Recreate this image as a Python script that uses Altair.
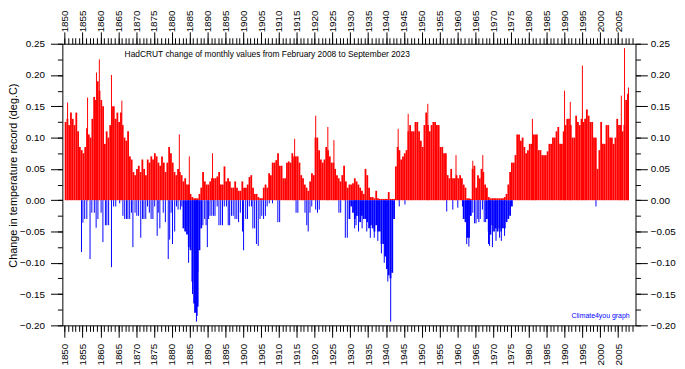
import altair as alt
import pandas as pd

# ---------------- data ----------------
start_year = 1850
step = 0.5  # half-year bins

# typical positive level per half-year (1850.0 ... 2007.5)
pos = [
    # 1850-1859
    0.125, 0.13, 0.12, 0.14, 0.13, 0.12, 0.14, 0.11, 0.085, 0.08,
    0.075, 0.085, 0.115, 0.105, 0.10, 0.13, 0.165, 0.16, 0.19, 0.175,
    # 1860-1869
    0.16, 0.15, 0.09, 0.11, 0.10, 0.12, 0.15, 0.15, 0.13, 0.14,
    0.125, 0.14, 0.12, 0.10, 0.095, 0.11, 0.07, 0.065, 0.045, 0.04,
    # 1870-1879
    0.05, 0.055, 0.045, 0.065, 0.05, 0.04, 0.065, 0.06, 0.07, 0.065,
    0.075, 0.07, 0.06, 0.055, 0.07, 0.06, 0.045, 0.06, 0.085, 0.075,
    # 1880-1889
    0.06, 0.045, 0.04, 0.05, 0.045, 0.04, 0.03, 0.035, 0.025, 0.025,
    0.01, 0.005, 0.003, 0.003, 0.003, 0.01, 0.02, 0.045, 0.03, 0.025,
    # 1890-1899
    0.025, 0.03, 0.035, 0.035, 0.035, 0.038, 0.045, 0.025, 0.025, 0.054,
    0.03, 0.035, 0.03, 0.02, 0.02, 0.03, 0.02, 0.015, 0.015, 0.03,
    # 1900-1909
    0.02, 0.02, 0.025, 0.037, 0.04, 0.02, 0.01, 0.01, 0.005, 0.003,
    0.003, 0.02, 0.025, 0.02, 0.043, 0.04, 0.06, 0.06, 0.064, 0.075,
    # 1910-1919
    0.055, 0.055, 0.035, 0.035, 0.06, 0.062, 0.06, 0.075, 0.07, 0.07,
    0.07, 0.06, 0.04, 0.035, 0.025, 0.02, 0.015, 0.03, 0.043, 0.04,
    # 1920-1929
    0.10, 0.10, 0.08, 0.065, 0.06, 0.065, 0.085, 0.08, 0.07, 0.06,
    0.06, 0.05, 0.04, 0.035, 0.03, 0.04, 0.055, 0.03, 0.02, 0.025,
    # 1930-1939
    0.025, 0.027, 0.035, 0.03, 0.025, 0.02, 0.015, 0.01, 0.05, 0.04,
    0.02, 0.005, 0.005, 0.003, 0.015, 0.003, 0.002, 0.002, 0.002, 0.002,
    # 1940-1949
    0.002, 0.013, 0.002, 0.002, 0.002, 0.054, 0.085, 0.08, 0.065, 0.07,
    0.075, 0.08, 0.11, 0.12, 0.11, 0.11, 0.125, 0.125, 0.11, 0.095,
    # 1950-1959
    0.085, 0.12, 0.14, 0.12, 0.11, 0.12, 0.125, 0.125, 0.12, 0.12,
    0.085, 0.085, 0.075, 0.075, 0.04, 0.035, 0.05, 0.035, 0.035, 0.04,
    # 1960-1969
    0.035, 0.04, 0.035, 0.025, 0.02, 0.003, 0.003, 0.002, 0.05, 0.055,
    0.02, 0.04, 0.035, 0.05, 0.045, 0.025, 0.02, 0.005, 0.003, 0.003,
    # 1970-1979
    0.003, 0.003, 0.003, 0.003, 0.003, 0.003, 0.005, 0.01, 0.025, 0.045,
    0.06, 0.06, 0.072, 0.105, 0.105, 0.095, 0.10, 0.085, 0.075, 0.08,
    # 1980-1989
    0.09, 0.09, 0.105, 0.105, 0.105, 0.08, 0.08, 0.072, 0.072, 0.072,
    0.078, 0.09, 0.09, 0.10, 0.10, 0.11, 0.117, 0.09, 0.09, 0.11,
    # 1990-1999
    0.12, 0.13, 0.13, 0.12, 0.10, 0.10, 0.135, 0.125, 0.12, 0.13,
    0.125, 0.13, 0.145, 0.135, 0.125, 0.125, 0.10, 0.10, 0.05, 0.08,
    # 2000-2007
    0.125, 0.09, 0.09, 0.12, 0.12, 0.10, 0.10, 0.09, 0.10, 0.13,
    0.12, 0.12, 0.11, 0.12, 0.16, 0.17,
]

# single-month positive spikes (decimal year, value)
pos_spike_year = [1850.8, 1856.4, 1858.9, 1859.7, 1863.1, 1866.0, 1882.1, 1884.9,
                  1891.4, 1914.4, 1920.3, 1923.7, 1925.4, 1943.4, 1946.2, 1951.7,
                  1959.6, 1964.3, 1967.1, 1981.0, 1990.0, 1991.6, 1995.0, 2005.9,
                  2006.8, 2007.9]
pos_spike_val = [0.156, 0.164, 0.204, 0.225, 0.20, 0.159, 0.105, 0.07,
                 0.075, 0.098, 0.135, 0.117, 0.096, 0.114, 0.138, 0.154,
                 0.072, 0.063, 0.072, 0.13, 0.175, 0.157, 0.215, 0.167,
                 0.243, 0.18]

# solid negative blocks per half-year (1850.0 ... 2007.5), zero elsewhere
neg_block = [0.0] * 66 + [
    # 1883-1888
    -0.045, -0.05, -0.055, -0.075, -0.08, -0.13, -0.165, -0.18, -0.17, -0.08,
    -0.045, 0.0,
] + [0.0] * 81 + [
    # 1929.5-1942
    -0.03, -0.01, -0.02, -0.03, -0.025, -0.025, -0.035, -0.025, -0.03, -0.03,
    -0.035, -0.045, -0.04, -0.045, -0.05, -0.04, -0.05, -0.05, -0.07, -0.07,
    -0.09, -0.11, -0.12, -0.125, -0.116, -0.03,
] + [0.0] * 38 + [
    # 1961.5-1963.5
    -0.03, -0.035, -0.06, -0.06, -0.025,
] + [0.0] * 8 + [
    # 1968-1975
    -0.03, -0.05, -0.055, -0.04, -0.05, -0.045, -0.05, -0.045, -0.05, -0.045,
    -0.045, -0.035, -0.03, -0.025, -0.01,
] + [0.0] * 65

# single-month negative spikes (decimal year, value)
neg_spike_year = [
    1854.7, 1855.1, 1855.6, 1856.2, 1857.1, 1857.6, 1858.3, 1858.8, 1859.3, 1860.2,
    1860.7, 1861.4, 1861.8, 1862.3, 1863.1, 1863.7, 1864.3, 1865.4, 1866.3, 1866.8,
    1867.3, 1867.7, 1868.2, 1868.7, 1869.1, 1869.7, 1870.2, 1870.7, 1871.3, 1871.8,
    1872.2, 1872.7, 1873.2, 1873.7, 1874.2, 1874.7, 1875.2, 1875.9, 1876.2, 1876.65,
    1877.6, 1878.2, 1879.0, 1879.4, 1879.8, 1880.2, 1880.8, 1881.3, 1881.75, 1882.4,
    1882.8, 1884.7, 1885.8, 1886.4, 1886.9, 1887.1, 1887.3,
    1888.7, 1889.2, 1889.6, 1889.95, 1890.3, 1890.7, 1891.2, 1891.7, 1892.1, 1892.7,
    1893.2, 1893.7, 1894.2, 1894.7, 1895.3, 1895.8, 1896.2, 1896.7, 1897.2, 1897.7,
    1898.2, 1898.7, 1899.2, 1899.8, 1900.1, 1900.7, 1901.2, 1901.7, 1902.3, 1902.7,
    1903.2, 1903.7, 1904.2, 1904.7, 1905.2, 1905.7, 1906.2, 1906.7, 1907.3, 1908.2,
    1909.7, 1910.2, 1914.8, 1915.3, 1917.3, 1917.8, 1918.2, 1918.7, 1919.2, 1920.3,
    1920.8, 1921.3, 1926.8, 1927.3, 1928.6, 1929.15, 1931.2, 1931.6, 1932.3, 1933.3,
    1934.6, 1935.6, 1936.7, 1937.7, 1938.7, 1939.5, 1940.5, 1941.3,
    1943.7, 1945.3, 1957.0, 1958.7, 1960.1, 1961.4, 1962.6, 1963.2,
    1964.3, 1964.8, 1965.2, 1965.7, 1966.0, 1966.4, 1967.0, 1967.5, 1967.9,
    1968.7, 1969.0, 1969.8, 1970.8, 1971.8, 1972.3, 1973.2, 1998.8,
]
neg_spike_val = [
    -0.083, -0.036, -0.03, -0.03, -0.094, -0.02, -0.02, -0.044, -0.03, -0.02,
    -0.067, -0.04, -0.04, -0.04, -0.107, -0.01, -0.01, -0.005, -0.025, -0.03,
    -0.03, -0.03, -0.03, -0.02, -0.075, -0.02, -0.025, -0.025, -0.06, -0.03,
    -0.03, -0.03, -0.01, -0.02, -0.03, -0.03, -0.01, -0.057, -0.02, -0.045,
    -0.02, -0.035, -0.094, -0.063, -0.02, -0.07, -0.05, -0.01, -0.015, -0.015,
    -0.01, -0.10, -0.15, -0.18, -0.194, -0.185, -0.115,
    -0.04, -0.03, -0.04, -0.075, -0.03, -0.025, -0.025, -0.025, -0.025, -0.01,
    -0.04, -0.04, -0.04, -0.01, -0.01, -0.04, -0.04, -0.025, -0.025, -0.03,
    -0.03, -0.035, -0.02, -0.05, -0.08, -0.03, -0.03, -0.01, -0.01, -0.045,
    -0.045, -0.07, -0.073, -0.03, -0.025, -0.03, -0.025, -0.01, -0.005, -0.005,
    -0.035, -0.035, -0.02, -0.02, -0.02, -0.04, -0.05, -0.02, -0.01, -0.015,
    -0.02, -0.015, -0.02, -0.02, -0.06, -0.06, -0.045, -0.04, -0.05, -0.045,
    -0.05, -0.06, -0.06, -0.065, -0.085, -0.10, -0.13, -0.194,
    -0.01, -0.007, -0.018, -0.015, -0.012, -0.01, -0.07, -0.074,
    -0.02, -0.037, -0.037, -0.03, -0.035, -0.03, -0.015, -0.035, -0.035,
    -0.07, -0.073, -0.075, -0.065, -0.06, -0.065, -0.057, -0.01,
]

x_major = list(range(1850, 2010, 5))
x_minor = list(range(1850, 2010))
y_major = [-0.20, -0.15, -0.10, -0.05, 0.00, 0.05, 0.10, 0.15, 0.20, 0.25]
y_minor = [-0.20, -0.175, -0.15, -0.125, -0.10, -0.075, -0.05, -0.025, 0.0,
           0.025, 0.05, 0.075, 0.10, 0.125, 0.15, 0.175, 0.20, 0.225, 0.25]

title_text = "HadCRUT change of monthly values from February 2008 to September 2023"
credit_text = "Climate4you graph"
y_title = "Change in temperature record (deg.C)"

# ---------------- tables ----------------
t0 = [start_year + step * i for i in range(len(pos))]
df_pos = pd.DataFrame({"t0": t0, "t1": [t + step for t in t0], "v": pos})
df_nb = pd.DataFrame({"t0": t0, "t1": [t + step for t in t0], "v": neg_block})
df_nb = df_nb[df_nb["v"] < 0]
df_ps = pd.DataFrame({"t": pos_spike_year, "v": pos_spike_val})
df_ns = pd.DataFrame({"t": neg_spike_year, "v": neg_spike_val})

FONT = "Liberation Sans"
RED = "#ff0000"
BLUE = "#0000ff"
xscale = alt.Scale(domain=[1849.34, 2009.87], nice=False, zero=False)
yscale = alt.Scale(domain=[-0.20, 0.25], nice=False, zero=False)

common_axis = dict(grid=False, domain=False, tickColor="black", tickWidth=1,
                   labelColor="black", labelFont=FONT, labelFontSize=10,
                   labelFlush=False, labelOverlap=False)


def x_major_axis(orient):
    return alt.Axis(orient=orient, values=x_major, format="d", labelAngle=270,
                    tickSize=12, labelPadding=6 if orient == "bottom" else 0,
                    title=None, **common_axis)


def x_minor_axis(orient):
    return alt.Axis(orient=orient, values=x_minor, labels=False, tickSize=6,
                    title=None, grid=False, domain=False, tickColor="black")


def y_major_axis(orient, title=None):
    kw = dict(orient=orient, values=y_major, format=".2f", tickSize=12,
              labelPadding=6 if orient == "left" else 3, **common_axis)
    if title:
        kw.update(title=title, titleFont=FONT, titleFontSize=11,
                  titleFontWeight="normal", titleColor="black", titleAngle=270,
                  titleX=-49, titleY=133, titleAlign="center",
                  titleBaseline="middle")
    else:
        kw.update(title=None)
    return alt.Axis(**kw)


def y_minor_axis(orient):
    return alt.Axis(orient=orient, values=y_minor, labels=False, tickSize=5,
                    title=None, grid=False, domain=False, tickColor="black")


pos_layer = alt.Chart(df_pos).mark_rect(color=RED).encode(
    x=alt.X("t0:Q", scale=xscale, axis=x_major_axis("bottom")),
    x2="t1:Q",
    y=alt.Y("v:Q", scale=yscale, axis=y_major_axis("left", y_title)),
    y2=alt.datum(0),
)

neg_layer = alt.Chart(df_nb).mark_rect(color=BLUE).encode(
    x=alt.X("t0:Q", scale=xscale, axis=x_major_axis("top")),
    x2="t1:Q",
    y=alt.Y("v:Q", scale=yscale, axis=y_major_axis("right")),
    y2=alt.datum(0),
)

pos_spikes = alt.Chart(df_ps).mark_rule(color=RED, strokeWidth=1).encode(
    x=alt.X("t:Q", scale=xscale, axis=x_minor_axis("bottom")),
    y=alt.Y("v:Q", scale=yscale, axis=y_minor_axis("left")),
    y2=alt.datum(0),
)

neg_spikes = alt.Chart(df_ns).mark_rule(color=BLUE, strokeWidth=1).encode(
    x=alt.X("t:Q", scale=xscale, axis=x_minor_axis("top")),
    y=alt.Y("v:Q", scale=yscale, axis=y_minor_axis("right")),
    y2=alt.datum(0),
)

title_layer = alt.Chart(pd.DataFrame({"t": [title_text]})).mark_text(
    align="left", baseline="middle", font=FONT, fontSize=8.5, color="black"
).encode(x=alt.value(63), y=alt.value(10), text="t:N")

credit_layer = alt.Chart(pd.DataFrame({"t": [credit_text]})).mark_text(
    align="right", baseline="middle", font=FONT, fontSize=7, color=BLUE
).encode(x=alt.value(574), y=alt.value(276), text="t:N")

chart = alt.layer(
    pos_layer, neg_layer, pos_spikes, neg_spikes, title_layer, credit_layer
).properties(
    width=580,
    height=285,
    autosize=alt.AutoSizeParams(type="none"),
    padding={"left": 55, "top": 34, "right": 42, "bottom": 42},
    background="white",
).configure_view(stroke="black", strokeWidth=1)

chart.save("out.html", embed_options={"renderer": "svg", "actions": False})
